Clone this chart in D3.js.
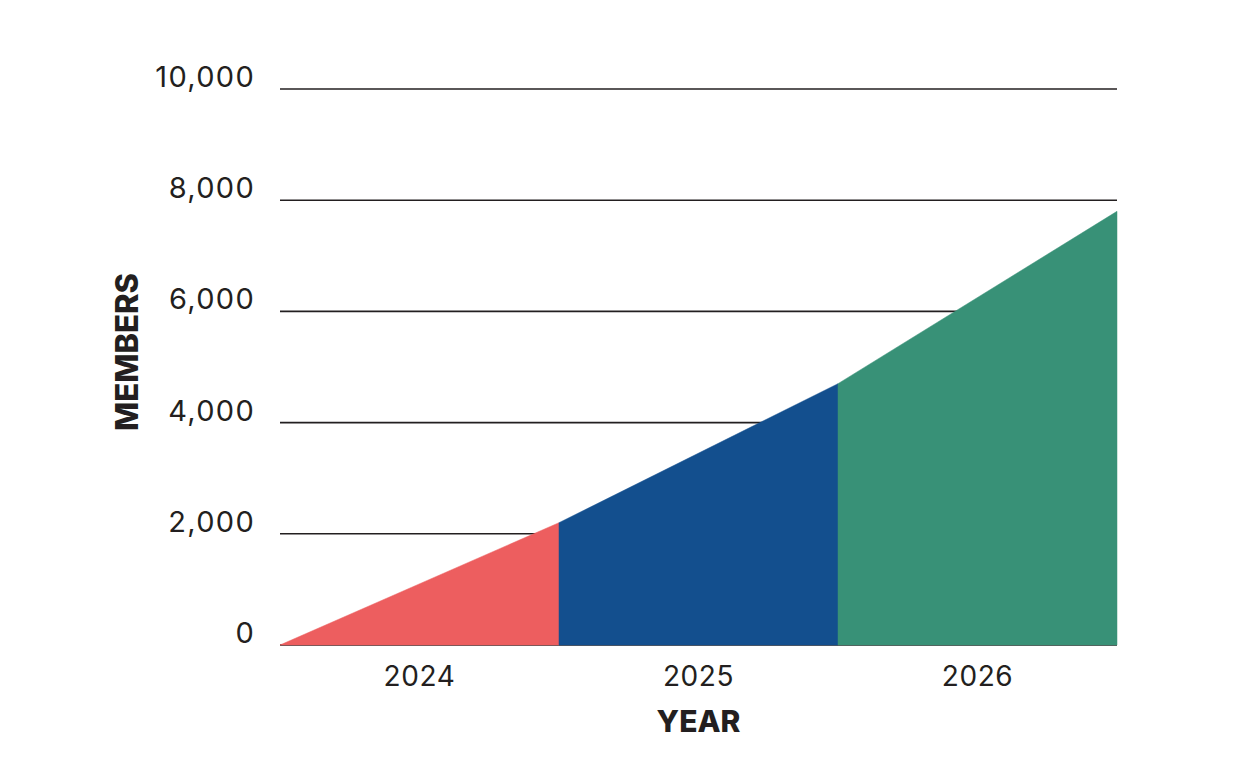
<!DOCTYPE html>
<html>
<head>
<meta charset="utf-8">
<script src="https://cdn.jsdelivr.net/npm/d3@7"></script>
<style>
  html, body { margin: 0; padding: 0; background: #fff; }
  text { font-family: Inter, "Open Sans", sans-serif; fill: #231f20; }
</style>
</head>
<body>
<div id="chart"></div>
<script>
const width = 1233;
const height = 771;

// data
const years = ["2024", "2025", "2026"];
const startMembers = [0, 2200, 4700];   // members at start of each year
const endMembers = [2200, 4700, 7800];  // members at end of each year
const yearColors = ["#ed5e5f", "#134f8e", "#389177"];
const yTicks = [0, 2000, 4000, 6000, 8000, 10000];

const margin = { left: 280, right: 116, top: 89, bottom: 126 };

let svg = d3.select("#chart").append("svg")
    .attr("width", width)
    .attr("height", height);

let x = d3.scaleLinear()
    .domain([0, years.length])
    .range([margin.left, width - margin.right]);

let y = d3.scaleLinear()
    .domain([0, 10000])
    .range([height - margin.bottom, margin.top]);

// gridlines first so the areas sit on top of them
let grid = svg.append("g").attr("class", "grid");
grid.selectAll("line")
    .data(yTicks)
    .enter().append("line")
    .attr("x1", x(0))
    .attr("x2", x(years.length))
    .attr("y1", d => y(d))
    .attr("y2", d => y(d))
    .attr("stroke", "#231f20")
    .attr("stroke-width", 1.6);

grid.selectAll("text")
    .data(yTicks)
    .enter().append("text")
    .attr("x", 255)
    .attr("y", d => y(d) - 2)
    .attr("text-anchor", "end")
    .attr("font-size", 29)
    .attr("letter-spacing", 1.3)
    .text(d => d3.format(",")(d));

// one area segment per year
let area = d3.area()
    .x(d => x(d.t))
    .y0(y(0))
    .y1(d => y(d.v));

let segments = years.map((yr, i) => ({
    year: yr,
    color: yearColors[i],
    pts: [{ t: i, v: startMembers[i] }, { t: i + 1, v: endMembers[i] }]
}));

svg.append("g").attr("class", "areas")
    .selectAll("path")
    .data(segments)
    .enter().append("path")
    .attr("d", d => area(d.pts))
    .attr("fill", d => d.color)
    .attr("stroke", d => d.color)
    .attr("stroke-width", 0.5);

// year labels
svg.append("g").selectAll("text")
    .data(years)
    .enter().append("text")
    .attr("x", (d, i) => x(i + 0.5))
    .attr("y", 686)
    .attr("text-anchor", "middle")
    .attr("font-size", 28)
    .attr("letter-spacing", 0.6)
    .text(d => d);

// axis titles
svg.append("text")
    .attr("x", x(years.length / 2))
    .attr("y", 732)
    .attr("text-anchor", "middle")
    .attr("font-size", 30)
    .attr("font-weight", 800)
    .text("YEAR");

svg.append("text")
    .attr("transform", "translate(138,352) rotate(-90)")
    .attr("text-anchor", "middle")
    .attr("font-size", 31)
    .attr("font-weight", 800)
    .text("MEMBERS");
</script>
</body>
</html>
